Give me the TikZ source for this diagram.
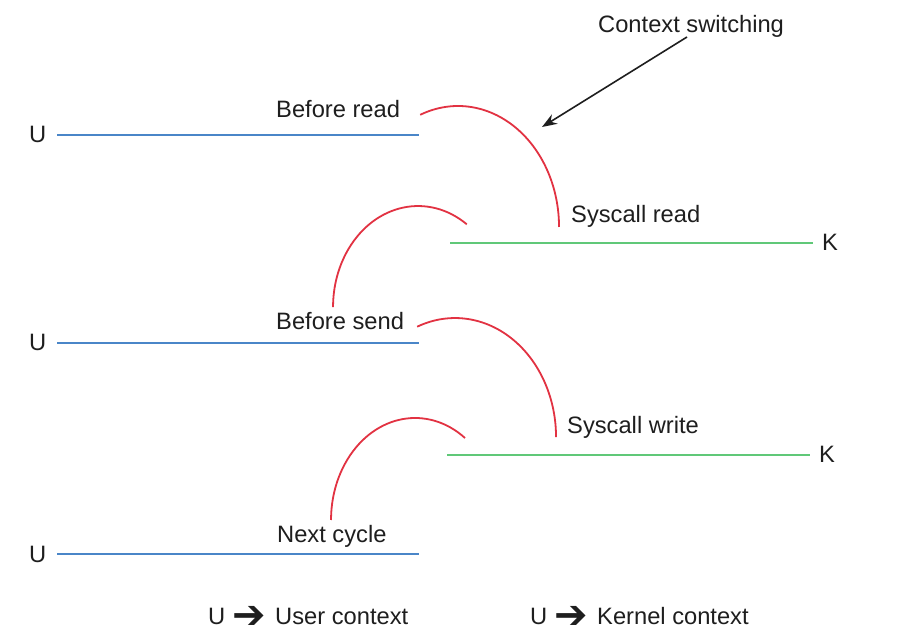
\documentclass[tikz,border=0pt]{standalone}
\usepackage{fontspec}
\setmainfont{Liberation Sans}
\newfontfamily\symfont{DejaVu Sans}
\usetikzlibrary{arrows.meta}
\definecolor{ublue}{RGB}{74,134,200}
\definecolor{kgreen}{RGB}{96,200,120}
\definecolor{cred}{RGB}{226,50,66}
\definecolor{txt}{RGB}{30,30,30}
\begin{document}
\begin{tikzpicture}[x=1pt,y=-1pt,
  lbl/.style={anchor=base west,inner sep=0pt,text=txt,font=\fontsize{23.7}{28}\selectfont},
  legarrow/.style={anchor=base west,inner sep=0pt,text=txt,font=\symfont\fontsize{40}{40}\selectfont},
  uline/.style={draw=ublue,line width=2pt},
  kline/.style={draw=kgreen,line width=2pt},
  sw/.style={draw=cred,line width=1.8pt}]
\useasboundingbox[fill=white] (0,0) rectangle (900,632);
% labels
\node[lbl] (cs) at (598,32) {Context switching};
\node[lbl] (br) at (276,117) {Before read};
\node[lbl] (sr) at (571,222) {Syscall read};
\node[lbl] (bs) at (276,329) {Before send};
\node[lbl] (swr) at (567,433) {Syscall write};
\node[lbl] (nc) at (277,542) {Next cycle};
\node[lbl] (u1) at (29,142) {U};
\node[lbl] (u2) at (29,350) {U};
\node[lbl] (u3) at (29,562) {U};
\node[lbl] (k1) at (822,250) {K};
\node[lbl] (k2) at (819,462) {K};
% legend
\node[lbl] (lu1) at (208,624) {U};
\node[legarrow] (la1) at (232,628) {➔};
\node[lbl] (lt1) at (275,624) {User context};
\node[lbl] (lu2) at (530,624) {U};
\node[legarrow] (la2) at (554,628) {➔};
\node[lbl] (lt2) at (597,624) {Kernel context};
% timelines
\coordinate (ua1) at (57,135); \coordinate (ub1) at (419,135);
\coordinate (ua2) at (57,343); \coordinate (ub2) at (419,343);
\coordinate (ua3) at (57,554); \coordinate (ub3) at (419,554);
\coordinate (ka1) at (450,243); \coordinate (kb1) at (813,243);
\coordinate (ka2) at (447,455); \coordinate (kb2) at (810,455);
\draw[uline] (ua1) -- (ub1);
\draw[uline] (ua2) -- (ub2);
\draw[uline] (ua3) -- (ub3);
\draw[kline] (ka1) -- (kb1);
\draw[kline] (ka2) -- (kb2);
% context switches
\coordinate (s1) at (420.2,114.8);
\coordinate (s2) at (466.8,224.3);
\coordinate (s3) at (417.2,326.7);
\coordinate (s4) at (465,438);
\draw[sw] (s1) arc[start angle=-112,end angle=0,x radius=101,y radius=121];
\draw[sw] (s2) arc[start angle=-55,end angle=-180,x radius=85,y radius=101];
\draw[sw] (s3) arc[start angle=-112,end angle=0,x radius=101,y radius=119];
\draw[sw] (s4) arc[start angle=-53.5,end angle=-180,x radius=84,y radius=102];
% pointer
\coordinate (pa) at (687,37);
\coordinate (pb) at (542,127);
\draw[draw=txt,line width=1.6pt,-{Stealth[length=15pt,width=11pt]}] (pa) -- (pb);
\end{tikzpicture}
\end{document}
